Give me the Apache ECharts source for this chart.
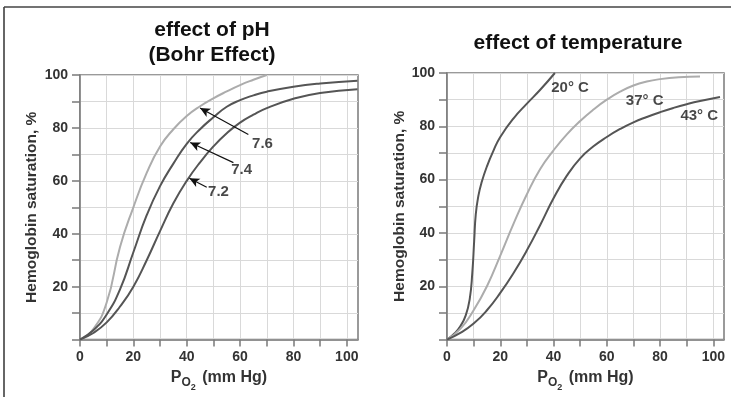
<!DOCTYPE html>
<html><head><meta charset="utf-8">
<script src="https://cdn.jsdelivr.net/npm/echarts@6/dist/echarts.min.js"></script>
<style>html,body{margin:0;padding:0;background:#fff}#c{width:731px;height:397px}</style>
</head><body><div id="c"></div><script>
// ---- data ----
const xTickLabels = [0, 20, 40, 60, 80, 100];
const yTickLabels = [20, 40, 60, 80, 100];
const tickValues = [0, 10, 20, 30, 40, 50, 60, 70, 80, 90, 100];

const ph76 = [[0,0],[5,4],[10,14],[15,35],[20,50],[25,63],[30,73],[35,79.5],[40,84.5],[45,88.2],[50,91.2],[55,93.8],[60,96.2],[65,98.2],[70,100]];
const ph74 = [[0,0],[5,3.5],[10,9.5],[15,19],[20,33],[25,47],[30,58],[35,66.5],[40,74],[45,79.5],[50,84],[55,88],[60,90.5],[65,92.3],[70,93.7],[80,95.6],[90,96.8],[104,97.8]];
const ph72 = [[0,0],[5,2.5],[10,6.5],[15,12.5],[20,20],[25,30],[30,41],[35,51.5],[40,60],[45,67],[50,73],[55,78],[60,82],[65,85],[70,87.5],[80,91],[90,93.2],[104,94.6]];

const t20 = [[0,0],[3,2.5],[5,5],[7,9],[8.5,15],[9.5,25],[10.2,37],[10.8,47],[11.8,54],[13,59],[15,65],[17.5,71],[20,76],[25,83],[30,88.5],[35,93.7],[40.5,100]];
const t37 = [[0,0],[5,4],[10,11],[15,20],[20,31.5],[25,43.5],[30,54.5],[35,64],[40,71],[45,77],[50,82],[55,86.3],[60,90],[65,93],[70,95.3],[75,96.8],[80,97.7],[87,98.4],[95,98.7]];
const t43 = [[0,0],[5,2.5],[10,6],[15,11],[20,17.5],[25,25],[30,33.5],[35,43],[40,53],[45,61.5],[50,68],[55,72.5],[60,76],[65,79],[70,81.5],[75,83.5],[80,85.3],[85,86.9],[90,88.3],[95,89.5],[102.5,91]];

const phLabels = [[68.4, 73.8, '7.6'], [60.6, 64, '7.4'], [51.9, 55.9, '7.2']];
const phArrows = [[[45, 87.5], [63.1, 77.5]], [[41.3, 74.5], [57.5, 66.9]], [[41, 61], [47.5, 57.6]]];
const tempLabels = [[46.2, 94.6, '20° C'], [74.2, 89.7, '37° C'], [94.7, 83.9, '43° C']];

// ---- chart ----
const FF = 'Liberation Sans, Arial, Helvetica, sans-serif';
const AX = '#7a7a7a', DARK = '#555555', LIGHT = '#acacac';

function xAxis(gi, max) {
  return {
    type: 'value', gridIndex: gi, min: 0, max: max, interval: 10,
    axisLine: { show: true, onZero: false, lineStyle: { color: AX, width: 1.5 } },
    axisTick: { show: true, length: 7, customValues: tickValues, lineStyle: { color: AX, width: 1.5 } },
    axisLabel: { customValues: xTickLabels, margin: 11, color: '#333', fontSize: 14, fontWeight: 'bold', fontFamily: FF },
    splitLine: { show: true, lineStyle: { color: '#d9d9d9', width: 1 } },
    name: '{p|P}{o|O}{t|2}{p| (mm Hg)}', nameLocation: 'middle', nameGap: 22,
    nameTextStyle: {
      rich: {
        p: { fontSize: 16, fontWeight: 'bold', fontFamily: FF, color: '#333', lineHeight: 30 },
        o: { fontSize: 12, fontWeight: 'bold', fontFamily: FF, color: '#333', padding: [10, 0, 0, 0] },
        t: { fontSize: 9, fontWeight: 'bold', fontFamily: FF, color: '#333', padding: [20, 2, 0, 0] }
      }
    }
  };
}
function yAxis(gi, gap) {
  return {
    type: 'value', gridIndex: gi, min: 0, max: 100, interval: 10,
    axisLine: { show: true, lineStyle: { color: AX, width: 1.5 } },
    axisTick: { show: true, length: 8, customValues: tickValues, lineStyle: { color: AX, width: 1.5 } },
    axisLabel: { customValues: yTickLabels, margin: 12, color: '#333', fontSize: 14, fontWeight: 'bold', fontFamily: FF },
    splitLine: { show: true, lineStyle: { color: '#d9d9d9', width: 1 } },
    name: 'Hemoglobin saturation, %', nameLocation: 'middle', nameGap: gap,
    nameTextStyle: { fontSize: 15.5, fontWeight: 'bold', fontFamily: FF, color: '#333' }
  };
}
function curve(gi, data, color) {
  return {
    type: 'line', xAxisIndex: gi, yAxisIndex: gi, data: data, showSymbol: false, symbol: 'none',
    smooth: 0.5, lineStyle: { color: color, width: 2 }, silent: true, z: 3
  };
}
function labelSeries(gi, data) {
  return {
    type: 'scatter', xAxisIndex: gi, yAxisIndex: gi, data: data, symbolSize: 0, silent: true, z: 5,
    label: { show: true, position: 'inside', formatter: p => p.value[2], color: '#1a1a1a', fontSize: 15, fontWeight: 'bold', fontFamily: FF }
  };
}

const arrowSeries = {
  type: 'line', xAxisIndex: 0, yAxisIndex: 0, data: [], silent: true,
  markLine: {
    silent: true, animation: false, symbol: ['arrow', 'none'], symbolSize: [7, 10],
    label: { show: false },
    lineStyle: { color: '#111', width: 1.2, type: 'solid' },
    data: phArrows.map(a => [{ coord: a[0] }, { coord: a[1] }])
  }
};

const chart = echarts.init(document.getElementById('c'));
chart.setOption({
  animation: false,
  backgroundColor: '#fff',
  grid: [
    { left: 80, top: 75, width: 278, height: 267, show: true, borderColor: AX, borderWidth: 1.5, backgroundColor: 'transparent' },
    { left: 447, top: 73, width: 277, height: 268, show: true, borderColor: AX, borderWidth: 1.5, backgroundColor: 'transparent' }
  ],
  xAxis: [xAxis(0, 104.2), xAxis(1, 104)],
  yAxis: [yAxis(0, 40), yAxis(1, 37)],
  graphic: [
    { type: 'line', shape: { x1: 4, y1: 7, x2: 4, y2: 397 }, style: { stroke: '#333', lineWidth: 1.5 } },
    { type: 'line', shape: { x1: 4, y1: 7, x2: 731, y2: 7 }, style: { stroke: '#444', lineWidth: 1.5 } },
    { type: 'text', x: 212, y: 42.5, style: { text: 'effect of pH\n(Bohr Effect)', font: 'bold 21px ' + FF, lineHeight: 25, fill: '#111', align: 'center', verticalAlign: 'middle' } },
    { type: 'text', x: 578, y: 43.5, style: { text: 'effect of temperature', font: 'bold 21px ' + FF, fill: '#111', align: 'center', verticalAlign: 'middle' } }
  ],
  series: [
    curve(0, ph76, LIGHT), curve(0, ph74, DARK), curve(0, ph72, DARK),
    curve(1, t20, DARK), curve(1, t37, LIGHT), curve(1, t43, DARK),
    arrowSeries,
    labelSeries(0, phLabels), labelSeries(1, tempLabels)
  ]
});
</script></body></html>
